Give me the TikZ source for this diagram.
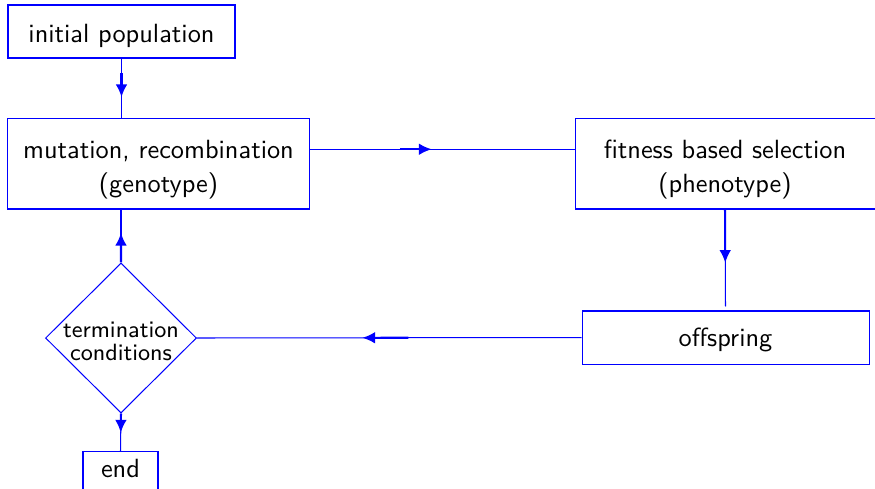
\documentclass[tikz,border=0pt]{standalone}
\usetikzlibrary{shapes.geometric,calc,arrows.meta}
\tikzset{
  box/.style={draw=blue, line width=0.4pt, inner sep=0pt},
  txt/.style={inner sep=0pt, align=center, font=\sffamily\fontsize{10.3}{13.2}\selectfont},
  conn/.style={draw=blue, line width=0.4pt},
  arrseg/.style={draw=blue, line width=0.8pt, -{Latex[length=5pt,width=4.6pt]}},
}
\begin{document}
\begin{tikzpicture}[x=0.391pt, y=-0.391pt]
\useasboundingbox (0,0) rectangle (875,488);
\node[box, minimum width=227*0.391pt, minimum height=53*0.391pt] (init) at (121.5,31.5) {};
\node[txt] (initT) at ($(init)+(0,4)$) {initial population};
\node[box, minimum width=302*0.391pt, minimum height=90.5*0.391pt] (mut) at (158.5,163.75) {};
\node[txt] (mutT) at ($(mut)+(0,6)$) {mutation, recombination\\(genotype)};
\node[box, minimum width=300*0.391pt, minimum height=90.5*0.391pt] (fit) at (725,163.75) {};
\node[txt] (fitT) at ($(fit)+(0,6)$) {fitness based selection\\(phenotype)};
\node[box, minimum width=287*0.391pt, minimum height=53*0.391pt] (off) at (725.5,337.5) {};
\node[txt] (offT) at ($(off)+(0,2)$) {offspring};
\node[draw=blue, line width=0.4pt, shape=diamond, aspect=1, inner sep=0pt, minimum width=151*0.391pt, minimum height=150*0.391pt] (dia) at (121,338) {};
\node[txt, font=\sffamily\fontsize{9.2}{9.1}\selectfont] (diaT) at ($(dia)+(0,3)$) {termination\\conditions};
\node[box, anchor=north, minimum width=75*0.391pt, minimum height=53*0.391pt] (end) at (120.5,451) {};
\node[txt, anchor=base] (endT) at ($(end.north)+(0,26)$) {end};
% init -> mut
\draw[conn] (init.south) -- (init.south |- mut.north);
\draw[arrseg] ($(init.south)!0.25!(init.south |- mut.north)$) -- ($(init.south)!0.65!(init.south |- mut.north)$);
% mut -> fit
\coordinate (a1) at ($(mut.east)+(0,-14.5)$);
\coordinate (b1) at (fit.west |- a1);
\draw[conn] (a1) -- (b1);
\draw[arrseg] ($(a1)!0.34!(b1)$) -- ($(a1)!0.46!(b1)$);
% fit -> off
\coordinate (b2) at ($(off.north)+(0,-4)$);
\draw[conn] (fit.south) -- (b2);
\draw[arrseg] (fit.south) -- ($(fit.south)!0.55!(b2)$);
% off -> dia
\draw[conn] (off.west) -- (dia.east);
\draw[arrseg] ($(off.west)!0.45!(dia.east)$) -- ($(off.west)!0.57!(dia.east)$);
% dia -> mut
\draw[conn] (dia.north) -- (dia.north |- mut.south);
\draw[arrseg] (dia.north) -- ($(dia.north)!0.56!(dia.north |- mut.south)$);
% dia -> end
\draw[conn] (dia.south) -- (end.north);
\draw[arrseg] (dia.south) -- ($(dia.south)!0.51!(end.north)$);
\end{tikzpicture}
\end{document}
